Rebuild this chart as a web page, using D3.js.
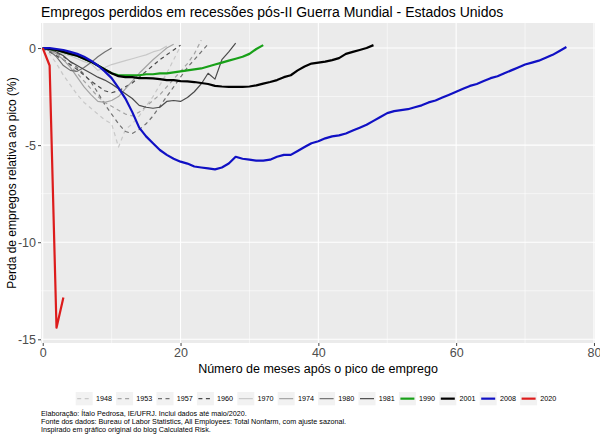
<!DOCTYPE html>
<html>
<head>
<meta charset="utf-8">
<script src="https://cdn.jsdelivr.net/npm/d3@7"></script>
<style>
  body { margin: 0; background: #fff; }
  svg { display: block; }
</style>
</head>
<body>
<script>
const WIDTH = 600;
const HEIGHT = 442;
const MARGIN = { top: 23, right: 5, bottom: 99, left: 41 };
const FONT = "'Liberation Sans', Arial, Helvetica, sans-serif";

// recession start years (legend order)
const years = ["1948", "1953", "1957", "1960", "1970", "1974", "1980", "1981", "1990", "2001", "2008", "2020"];

// % change in payroll employment vs. peak, one value per month after the peak (month 0 = peak)
const v1948 = [0, -0.3, -0.8, -1.4, -1.9, -2.4, -2.8, -3.1, -3.4, -3.7, -3.9, -5.1, -4.2, -3.9, -3.5, -3.0, -2.5, -1.9, -1.3, -0.6, 0.1];
const v1953 = [0, -0.1, -0.3, -0.6, -0.9, -1.3, -1.7, -2.1, -2.5, -2.8, -3.0, -3.2, -3.4, -3.5, -3.3, -3.0, -2.7, -2.4, -2.0, -1.6, -1.2, -0.8, -0.3, 0.4];
const v1957 = [0, -0.1, -0.25, -0.45, -0.7, -1.0, -1.35, -1.75, -2.3, -2.9, -3.4, -3.9, -4.3, -4.4, -4.2, -3.9, -3.5, -3.0, -2.5, -2.0, -1.5, -1.0, -0.6, -0.2, 0.2];
const v1960 = [0, -0.2, -0.4, -0.6, -0.85, -1.1, -1.4, -1.7, -1.95, -2.2, -2.3, -2.2, -2.0, -1.8, -1.5, -1.2, -0.9, -0.6, -0.35, -0.1, 0.15];
const v1970 = [0, -0.05, -0.2, -0.3, -0.4, -0.55, -0.7, -0.8, -1.15, -1.0, -0.85, -0.75, -0.65, -0.55, -0.45, -0.35, -0.2, -0.1, 0.1];
const v1974 = [0, -0.1, -0.3, -0.6, -1.0, -1.5, -2.0, -2.4, -2.75, -2.8, -2.7, -2.5, -2.1, -1.7, -1.3, -0.95, -0.6, -0.3, 0.0, 0.2];
const v1980 = [0, -0.15, -0.45, -0.9, -1.15, -1.2, -1.0, -0.75, -0.45, -0.2, 0.0];
const v1981 = [0, -0.05, -0.2, -0.4, -0.7, -0.9, -1.1, -1.3, -1.5, -1.65, -1.85, -2.1, -2.35, -2.6, -2.95, -3.05, -3.1, -3.05, -2.75, -2.7, -2.75, -2.55, -2.25, -1.85, -1.3, -1.6, -0.6, -0.2, 0.25];
const v1990 = [0, -0.05, -0.1, -0.2, -0.3, -0.4, -0.55, -0.7, -0.9, -1.1, -1.3, -1.4, -1.4, -1.4, -1.4, -1.35, -1.35, -1.3, -1.3, -1.25, -1.2, -1.15, -1.1, -1.05, -0.95, -0.85, -0.75, -0.65, -0.55, -0.45, -0.3, -0.05, 0.15];
const v2001 = [0, -0.05, -0.1, -0.2, -0.3, -0.4, -0.55, -0.7, -0.9, -1.1,
  -1.3, -1.45, -1.5, -1.5, -1.55, -1.55, -1.56, -1.6, -1.65, -1.65,
  -1.7, -1.72, -1.75, -1.8, -1.85, -1.95, -1.98, -2.0, -2.0, -2.0,
  -1.98, -1.92, -1.83, -1.75, -1.65, -1.5, -1.4, -1.15, -0.95, -0.8,
  -0.75, -0.7, -0.62, -0.52, -0.3, -0.2, -0.1, 0.0, 0.15];
const v2008 = [0, 0.0, -0.05, -0.1, -0.2, -0.3, -0.45, -0.65, -0.9, -1.2,
  -1.55, -2.05, -2.6, -3.3, -4.1, -4.55, -4.9, -5.25, -5.5, -5.7,
  -5.85, -5.95, -6.1, -6.15, -6.2, -6.25, -6.15, -5.95, -5.6, -5.7,
  -5.75, -5.8, -5.8, -5.75, -5.6, -5.5, -5.5, -5.3, -5.1, -4.9,
  -4.8, -4.65, -4.55, -4.5, -4.4, -4.25, -4.1, -3.95, -3.75, -3.55,
  -3.35, -3.25, -3.2, -3.15, -3.05, -2.95, -2.8, -2.7, -2.55, -2.4,
  -2.25, -2.1, -1.95, -1.85, -1.7, -1.55, -1.45, -1.3, -1.15, -1.0,
  -0.85, -0.75, -0.65, -0.5, -0.35, -0.15, 0.05];
const v2020 = [0, -0.9, -14.4, -12.85];

const seriesValues = [v1948, v1953, v1957, v1960, v1970, v1974, v1980, v1981, v1990, v2001, v2008, v2020];

const xTicks = [0, 20, 40, 60, 80];
const yTicks = [0, -5, -10, -15];

const titleText = "Empregos perdidos em recessões pós-II Guerra Mundial - Estados Unidos";
const xTitle = "Número de meses após o pico de emprego";
const yTitle = "Perda de empregos relativa ao pico (%)";
const captionLines = [
  "Elaboração: Ítalo Pedrosa, IE/UFRJ. Inclui dados até maio/2020.",
  "Fonte dos dados: Bureau of Labor Statistics, All Employees: Total Nonfarm, com ajuste sazonal.",
  "Inspirado em gráfico original do blog Calculated Risk."
];

// line styles per year
const styleByYear = {
  "1948": { color: "#c8c8c8", width: 1.2, dash: "4,3.5" },
  "1953": { color: "#a3a3a3", width: 1.2, dash: "4,3.5" },
  "1957": { color: "#717171", width: 1.2, dash: "4,3.5" },
  "1960": { color: "#4a4a4a", width: 1.2, dash: "4,3.5" },
  "1970": { color: "#c8c8c8", width: 1.2, dash: null },
  "1974": { color: "#a3a3a3", width: 1.2, dash: null },
  "1980": { color: "#717171", width: 1.2, dash: null },
  "1981": { color: "#4a4a4a", width: 1.2, dash: null },
  "1990": { color: "#18a018", width: 2.2, dash: null },
  "2001": { color: "#000000", width: 2.2, dash: null },
  "2008": { color: "#1010c4", width: 2.2, dash: null },
  "2020": { color: "#dd1c1c", width: 2.2, dash: null }
};

const chartWidth = WIDTH - MARGIN.left - MARGIN.right;
const chartHeight = HEIGHT - MARGIN.top - MARGIN.bottom;

const x = d3.scaleLinear().domain([-0.25, 80.15]).range([0, chartWidth]);
const y = d3.scaleLinear().domain([-15.19, 1.29]).range([chartHeight, 0]);

const svg = d3.select("body")
  .append("svg")
  .attr("width", WIDTH)
  .attr("height", HEIGHT)
  .attr("viewBox", `0 0 ${WIDTH} ${HEIGHT}`)
  .style("font-family", FONT);

svg.append("rect").attr("width", WIDTH).attr("height", HEIGHT).attr("fill", "#fff");

// Title
svg.append("text")
  .attr("x", MARGIN.left)
  .attr("y", 17)
  .attr("font-size", "14px")
  .attr("fill", "#000")
  .text(titleText);

const g = svg.append("g").attr("transform", `translate(${MARGIN.left},${MARGIN.top})`);

// Panel background
g.append("rect").attr("width", chartWidth).attr("height", chartHeight).attr("fill", "#ebebeb");

// Minor grid
const xMinor = [10, 30, 50, 70];
const yMinor = [-2.5, -7.5, -12.5];
g.append("g").selectAll("line").data(xMinor).join("line")
  .attr("x1", d => x(d)).attr("x2", d => x(d))
  .attr("y1", 0).attr("y2", chartHeight)
  .attr("stroke", "#fff").attr("stroke-width", 0.55);
g.append("g").selectAll("line").data(yMinor).join("line")
  .attr("y1", d => y(d)).attr("y2", d => y(d))
  .attr("x1", 0).attr("x2", chartWidth)
  .attr("stroke", "#fff").attr("stroke-width", 0.55);

// Major grid
g.append("g").selectAll("line").data(xTicks).join("line")
  .attr("x1", d => x(d)).attr("x2", d => x(d))
  .attr("y1", 0).attr("y2", chartHeight)
  .attr("stroke", "#fff").attr("stroke-width", 1.1);
g.append("g").selectAll("line").data(yTicks).join("line")
  .attr("y1", d => y(d)).attr("y2", d => y(d))
  .attr("x1", 0).attr("x2", chartWidth)
  .attr("stroke", "#fff").attr("stroke-width", 1.1);

// Lines
const line = d3.line()
  .x((d, i) => x(i))
  .y(d => y(d));

years.forEach((yr, i) => {
  const s = styleByYear[yr];
  g.append("path")
    .datum(seriesValues[i])
    .attr("d", line)
    .attr("fill", "none")
    .attr("stroke", s.color)
    .attr("stroke-width", s.width)
    .attr("stroke-linejoin", "round")
    .attr("stroke-dasharray", s.dash);
});

// Axes
const xAxis = g.append("g")
  .attr("transform", `translate(0,${chartHeight})`)
  .call(d3.axisBottom(x).tickValues(xTicks).tickSize(3).tickPadding(2));
const yAxis = g.append("g")
  .call(d3.axisLeft(y).tickValues(yTicks).tickSize(3).tickPadding(2));
[xAxis, yAxis].forEach(a => {
  a.select(".domain").remove();
  a.selectAll(".tick line").attr("stroke", "#333").attr("stroke-width", 0.9);
  a.selectAll("text").attr("fill", "#4d4d4d").attr("font-size", "12.5px").attr("font-family", FONT);
});
yAxis.selectAll("text").text(d => String(d));

// Axis titles
svg.append("text")
  .attr("x", MARGIN.left + chartWidth / 2)
  .attr("y", 373)
  .attr("text-anchor", "middle")
  .attr("font-size", "12.5px")
  .attr("fill", "#000")
  .text(xTitle);
svg.append("text")
  .attr("transform", `translate(16,${MARGIN.top + chartHeight / 2}) rotate(-90)`)
  .attr("text-anchor", "middle")
  .attr("font-size", "12px")
  .attr("fill", "#000")
  .text(yTitle);

// Legend
const legend = svg.append("g");
const keyW = 17, keyH = 13.3, labelGap = 3.2, itemGap = 4.2;
let cursor = 0;
years.forEach(yr => {
  const it = legend.append("g").attr("transform", `translate(${cursor},0)`);
  const s = styleByYear[yr];
  it.append("rect").attr("width", keyW).attr("height", keyH).attr("fill", "#f2f2f2");
  it.append("line")
    .attr("x1", 1.5).attr("x2", keyW - 1.5)
    .attr("y1", keyH / 2).attr("y2", keyH / 2)
    .attr("stroke", s.color)
    .attr("stroke-width", s.width)
    .attr("stroke-dasharray", s.dash);
  const t = it.append("text")
    .attr("x", keyW + labelGap)
    .attr("y", keyH / 2 + 2.5)
    .attr("font-size", "7.2px")
    .attr("fill", "#000")
    .text(yr);
  cursor += keyW + labelGap + t.node().getComputedTextLength() + itemGap;
});
const legendWidth = cursor - itemGap;
legend.attr("transform", `translate(${316 - legendWidth / 2},392)`);

// Caption
svg.append("g").selectAll("text").data(captionLines).join("text")
  .attr("x", MARGIN.left)
  .attr("y", (d, i) => 416 + i * 7.8)
  .attr("font-size", "7.2px")
  .attr("fill", "#000")
  .text(d => d);
</script>
</body>
</html>
